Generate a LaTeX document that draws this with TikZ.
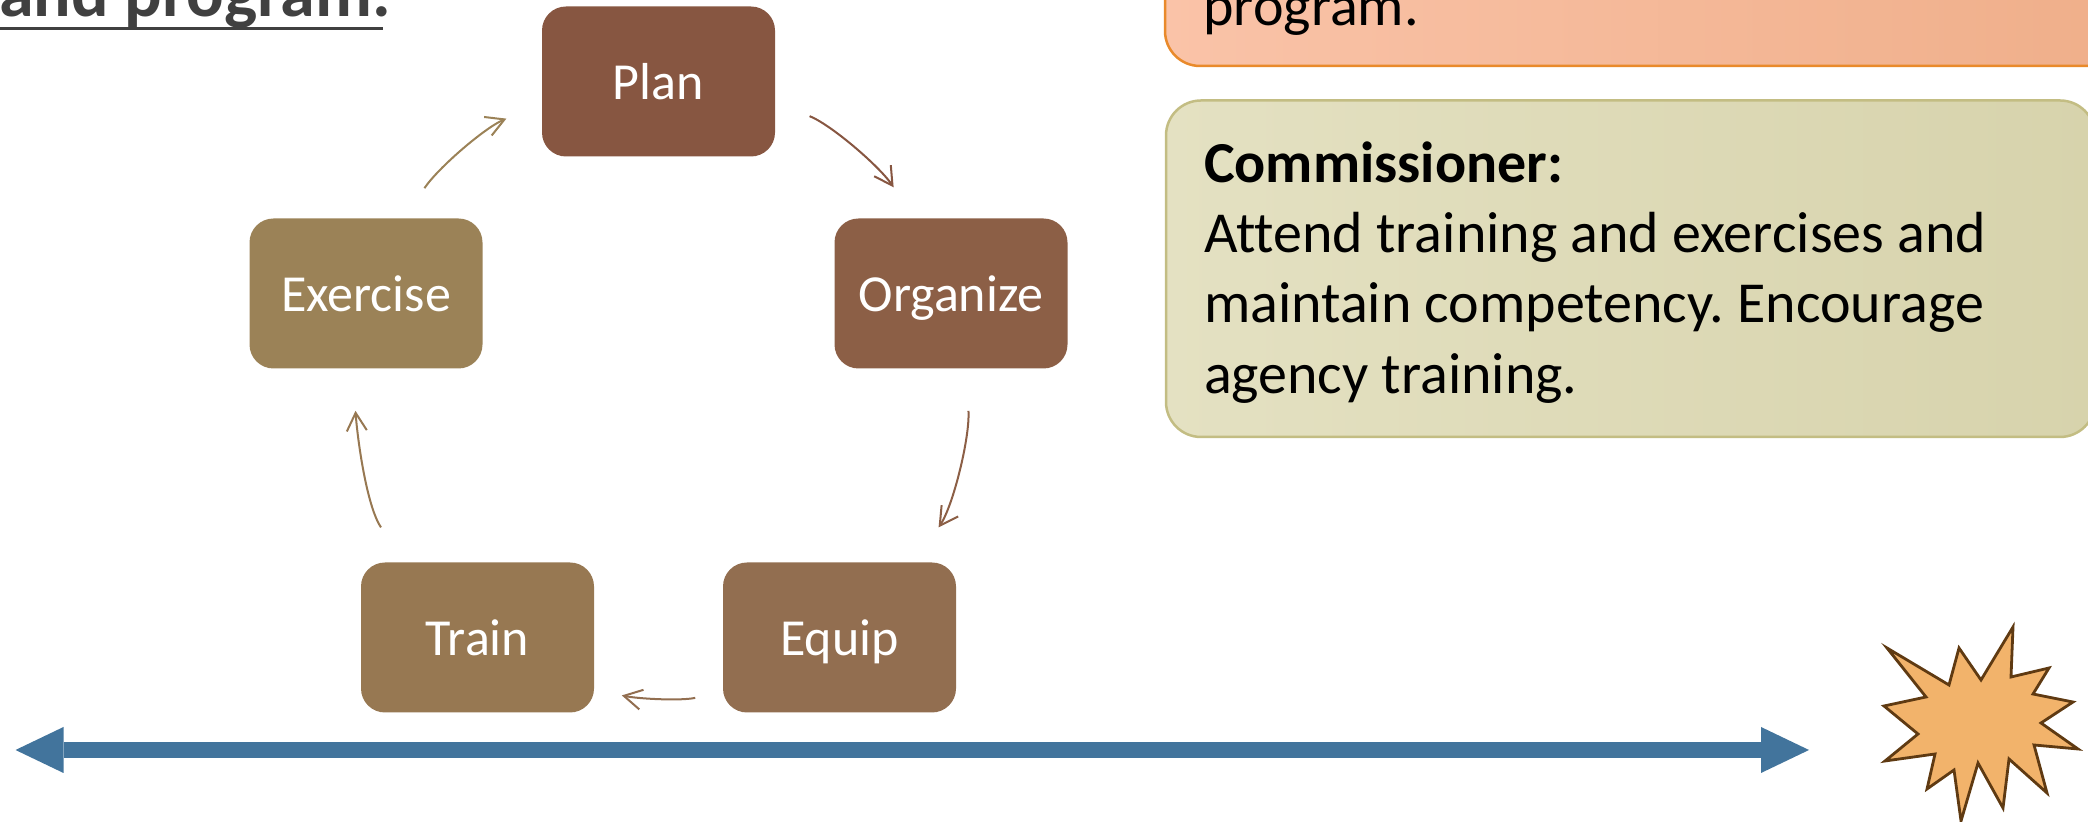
\documentclass[tikz,border=0pt]{standalone}
\usepackage{fontspec}
\setmainfont{Carlito}[Ligatures=NoCommon]
\usetikzlibrary{arrows.meta}
\frenchspacing

\definecolor{planC}{HTML}{875641}
\definecolor{orgC}{HTML}{8C5F46}
\definecolor{equipC}{HTML}{926E50}
\definecolor{trainC}{HTML}{977852}
\definecolor{exerC}{HTML}{9B8257}
\definecolor{barC}{HTML}{42749C}
\definecolor{oliveL}{HTML}{E4E1C2}
\definecolor{oliveR}{HTML}{D7D3AC}
\definecolor{oliveE}{HTML}{C3BD83}
\definecolor{peachL}{HTML}{FAC3A8}
\definecolor{peachR}{HTML}{EFAE89}
\definecolor{peachE}{HTML}{E98A2B}
\definecolor{starF}{HTML}{F2B36B}
\definecolor{starE}{HTML}{5F3A12}
\definecolor{titleC}{HTML}{404040}

\begin{document}
\begin{tikzpicture}[x=0.5pt,y=0.5pt,
	stagebox/.style={rounded corners=12pt, minimum width=116.5pt, minimum height=75pt,
		inner sep=0pt, text=white, text height=23pt, text depth=4.5pt,
		font=\fontsize{26}{31}\selectfont},
	cyc/.style={-{Straight Barb[length=9pt,width=10pt]}, line width=1pt, looseness=0.87},
	notebox/.style={rounded corners=17.5pt, line width=1.25pt},
	timeline/.style={{Triangle[length=24pt,width=23pt,line width=0pt]}-{Triangle[length=24pt,width=23pt,line width=0pt]},
		line width=7.75pt, draw=barC},
	burst/.style={fill=starF, draw=starE, line width=1.4pt, line join=miter}]
	
	\useasboundingbox (0,0) rectangle (2088,822);
	\clip (0,0) rectangle (2088,822);
	
	\node[anchor=base west, inner sep=0pt, text=titleC, font=\fontsize{35}{42}\selectfont\bfseries] (title) at (-1,805) {and program.};
	\draw[titleC, line width=1.5pt] (title.base west) ++(0,-11.5) -- ++(384,0);
	
	\path[notebox, draw=peachE, left color=peachL, right color=peachR] (1165,756) rectangle (2150,900);
	\node[anchor=base west, inner sep=0pt, font=\fontsize{29}{35.15}\selectfont] (peachText) at (1203,796) {program.};
	
	\node[notebox, draw=oliveE, left color=oliveL, right color=oliveR, minimum width=464.5pt, minimum height=168.25pt]
		(commBox) at (1630.5,553.25) {};
	\node[text width=426.5pt, inner sep=0pt, align=flush left, font=\fontsize{29}{35.15}\selectfont]
		(commText) at (1630.5,549.5) {\textbf{Commissioner:}\\Attend training and exercises and\\maintain competency. Encourage\\agency training.};
	
	\node[stagebox, fill=planC] (Plan) at (658.5,740.5) {Plan};
	\node[stagebox, fill=orgC] (Organize) at (951,528.5) {Organize};
	\node[stagebox, fill=equipC] (Equip) at (839.5,184.5) {Equip};
	\node[stagebox, fill=trainC] (Train) at (477.5,184.5) {Train};
	\node[stagebox, fill=exerC] (Exercise) at (366,528.5) {Exercise};
	
	\draw[cyc, draw=planC, shorten <=18.5pt, shorten >=18.5pt] (Plan.-10.9) to[out=-22.3, in=123.8] (Organize.116.3);
	\draw[cyc, draw=orgC, shorten <=21pt, shorten >=21pt] (Organize.-79.2) to[out=-86.2, in=55.7] (Equip.45.8);
	\draw[cyc, draw=equipC, shorten <=14pt, shorten >=14pt] (Equip.-155.9) to[out=-167.9, in=-12.1] (Train.-24.1);
	\draw[cyc, draw=trainC, shorten <=21pt, shorten >=21pt] (Train.134.2) to[out=124.3, in=-86.2] (Exercise.-100.8);
	\draw[cyc, draw=exerC, shorten <=18pt, shorten >=19pt] (Exercise.63.7) to[out=56.2, in=-157.7] (Plan.-169.1);
	
	\coordinate (tlStart) at (15.5,72);
	\coordinate (tlEnd) at (1809,72);
	\draw[timeline] (tlStart) -- (tlEnd);
	
	\draw[burst] (1887,174) -- (1949,137) -- (1959,174) -- (1981,142) -- (2013,195) -- (2011,145)
		-- (2049,154) -- (2033,128) -- (2073,120) -- (2041,99) -- (2078,73) -- (2034,77)
		-- (2047,29) -- (2009,63) -- (2003,14) -- (1978,59) -- (1961,1) -- (1954,52)
		-- (1927,33) -- (1935,68) -- (1885,61) -- (1918,88) -- (1884,116) -- (1926,125) -- cycle;
\end{tikzpicture}
\end{document}
